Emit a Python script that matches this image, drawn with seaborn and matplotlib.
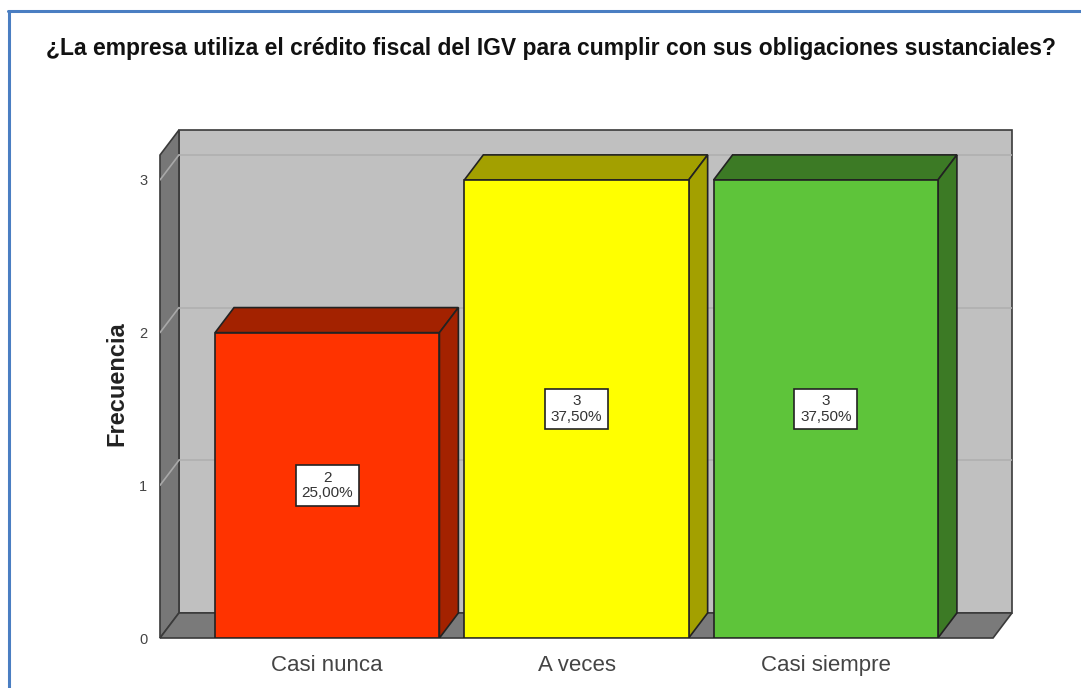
import numpy as np
import pandas as pd
import seaborn as sns
from matplotlib import pyplot as plt
from matplotlib.patches import Polygon, Rectangle
from matplotlib.lines import Line2D

# data
categories = ["Casi nunca", "A veces", "Casi siempre"]
frequencies = [2, 3, 3]
percents = ["25,00%", "37,50%", "37,50%"]
y_ticks = [0, 1, 2, 3]

front_colors = ["#FF3300", "#FFFF00", "#5EC43A"]
dark_colors = ["#A32200", "#A3A000", "#3C7A25"]

sns.set_theme(style="white")
plt.rcParams["font.family"] = ["Liberation Sans", "DejaVu Sans"]

W, H = 1081, 688
fig = plt.figure(figsize=(W / 100, H / 100), dpi=100)
ax = fig.add_axes([160 / W, 1 - 638 / H, (1012 - 160) / W, (638 - 130) / H])

# 3d depth in data units
dx, dy = 0.076, 0.164
xl, xr = -0.671, 2.671
ytop = 3.327

df = pd.DataFrame({"cat": categories, "freq": frequencies})

# walls and floor
ax.add_patch(Rectangle((xl + dx, dy), xr - xl, ytop - dy, facecolor="#C0C0C0",
                       edgecolor="#3a3a3a", lw=1.2, zorder=0, clip_on=False))
ax.add_patch(Polygon([(xl, 0), (xl + dx, dy), (xl + dx, ytop), (xl, ytop - dy)],
                     facecolor="#777777", edgecolor="#3a3a3a", lw=1.2, zorder=0.5, clip_on=False))
ax.add_patch(Polygon([(xl, 0), (xr, 0), (xr + dx, dy), (xl + dx, dy)],
                     facecolor="#7A7A7A", edgecolor="#3a3a3a", lw=1.2, zorder=0.5, clip_on=False))
for t in y_ticks[1:]:
    ax.plot([xl + dx, xr + dx], [t + dy, t + dy], color="#B0B0B0", lw=1.2, zorder=0.6)
    ax.plot([xl, xl + dx], [t, t + dy], color="#A8A8A8", lw=1.2, zorder=0.6)

# front faces
sns.barplot(data=df, x="cat", y="freq", hue="cat", palette=front_colors, width=0.9,
            saturation=1, edgecolor="#222222", linewidth=1.2, legend=False, ax=ax, zorder=2)

bw = 0.45
for i, v in enumerate(frequencies):
    x0, x1 = i - bw, i + bw
    ax.add_patch(Polygon([(x0, v), (x1, v), (x1 + dx, v + dy), (x0 + dx, v + dy)],
                         facecolor=dark_colors[i], edgecolor="#222222", lw=1.2, zorder=1.5))
    ax.add_patch(Polygon([(x1, 0), (x1 + dx, dy), (x1 + dx, v + dy), (x1, v)],
                         facecolor=dark_colors[i], edgecolor="#222222", lw=1.2, zorder=1.5))
    ax.text(i, v / 2, f"{v}\n{percents[i]}", ha="center", va="center", fontsize=11,
            color="#333333", linespacing=1.1, zorder=3,
            bbox=dict(boxstyle="square,pad=0.38", facecolor="white", edgecolor="#222222", lw=1.2))

ax.set_xlim(xl, xr + dx)
ax.set_ylim(0, ytop)
ax.set_yticks(y_ticks)
ax.set_yticklabels([str(t) for t in y_ticks], color="#444444", fontsize=10.5)
ax.set_xticks(range(len(categories)))
ax.set_xticklabels(categories, color="#444444", fontsize=16)
ax.tick_params(axis="y", length=0, pad=9)
ax.tick_params(axis="x", length=0, pad=12)
ax.set_xlabel("")
ax.set_ylabel("Frecuencia", fontsize=17, fontweight="bold", color="#222222", labelpad=8)
for s in ax.spines.values():
    s.set_visible(False)
ax.patch.set_alpha(0)

fig.text(551 / W, 1 - 48 / H, "¿La empresa utiliza el crédito fiscal del IGV para cumplir con sus obligaciones sustanciales?",
         ha="center", va="center", fontsize=16.5, fontweight="bold", color="#111111")

# blue frame
fig.add_artist(Line2D([8 / W, 1], [1 - 11 / H, 1 - 11 / H], color="#4A7EC2", lw=2.2, transform=fig.transFigure))
fig.add_artist(Line2D([8.5 / W, 8.5 / W], [0, 1 - 11 / H], color="#4A7EC2", lw=2.2, transform=fig.transFigure))

fig.savefig("out.png", dpi=100)
